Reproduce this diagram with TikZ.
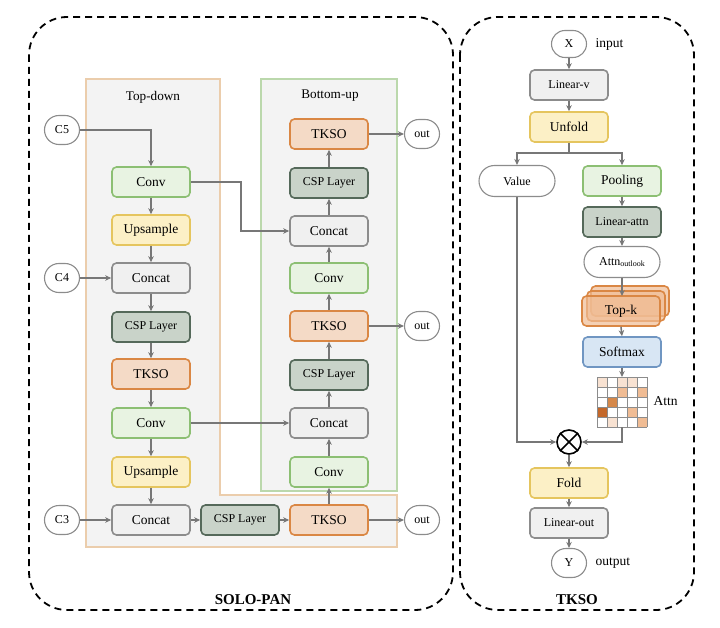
\documentclass[tikz,border=0pt]{standalone}
\usepackage{fontspec}
\setmainfont{Liberation Serif}
\usetikzlibrary{arrows.meta, shapes.misc}

\definecolor{convfill}{HTML}{E8F3E2}
\definecolor{convline}{HTML}{8CBF73}
\definecolor{upfill}{HTML}{FCF0C6}
\definecolor{upline}{HTML}{E5C55E}
\definecolor{catfill}{HTML}{F0F0F0}
\definecolor{catline}{HTML}{8C8C8C}
\definecolor{cspfill}{HTML}{C9D3C9}
\definecolor{cspline}{HTML}{55695A}
\definecolor{tkfill}{HTML}{F4DAC6}
\definecolor{tkline}{HTML}{DA8744}
\definecolor{smfill}{HTML}{D8E6F4}
\definecolor{smline}{HTML}{7096C2}
\definecolor{arrgray}{HTML}{777777}
\definecolor{panelfill}{HTML}{F3F3F3}
\definecolor{tdline}{HTML}{EBCDAC}
\definecolor{buline}{HTML}{BBD8AC}
\definecolor{wa}{HTML}{F8E2D2}
\definecolor{wb}{HTML}{F0BC94}
\definecolor{wc}{HTML}{D5884A}
\definecolor{wd}{HTML}{C4682A}

\begin{document}
\begin{tikzpicture}[x=1pt, y=-1pt,
    box/.style={draw, rounded corners=4.5pt, line width=1.6pt, minimum width=78pt,
        minimum height=30pt, inner sep=0pt, font=\fontsize{13.5}{15}\selectfont},
    conv/.style={box, draw=convline, fill=convfill},
    upsm/.style={box, draw=upline, fill=upfill},
    cat/.style={box, draw=catline, fill=catfill},
    csp/.style={box, draw=cspline, fill=cspfill, font=\fontsize{12}{14}\selectfont},
    tkso/.style={box, draw=tkline, fill=tkfill},
    smax/.style={box, draw=smline, fill=smfill},
    pill/.style={rounded rectangle, draw=catline, fill=white, line width=1.1pt,
        minimum width=39pt, minimum height=29pt, inner xsep=2pt,
        font=\fontsize{12}{14}\selectfont},
    link/.style={draw=arrgray, line width=1.6pt, -{Stealth[length=6pt, width=5.5pt]}},
    plain/.style={draw=arrgray, line width=1.6pt},
    outer/.style={draw=black, line width=1.8pt, dash pattern=on 7pt off 5pt, rounded corners=38pt},
    title/.style={font=\fontsize{13.2}{15}\selectfont},
    lbl/.style={font=\fontsize{13.5}{15}\selectfont}]

    \useasboundingbox (0,0) rectangle (720,628);

    % Outer dashed frames
    \draw[outer] (29,17) rectangle (453,610);
    \draw[outer] (460,17) rectangle (694,610);
    \node[font=\fontsize{15}{17}\selectfont\bfseries] (solo) at (253,600) {SOLO-PAN};
    \node[font=\fontsize{15}{17}\selectfont\bfseries] (tksotitle) at (577,600) {TKSO};

    % Panels
    \draw[draw=tdline, fill=panelfill, line width=1.1pt]
        (86,79) -- (220,79) -- (220,495) -- (397,495) -- (397,547) -- (86,547) -- cycle;
    \draw[draw=buline, fill=panelfill, line width=1.1pt] (261,79) rectangle (397,491);
    \node[title] (td) at (153,97) {Top-down};
    \node[title] (bu) at (330,96) {Bottom-up};

    % Inputs
    \node[pill] (c5) at (62,130) {C5};
    \node[pill] (c4) at (62,278) {C4};
    \node[pill] (c3) at (62,520) {C3};

    % Top-down column
    \node[conv] (cv1) at (151,182) {Conv};
    \node[upsm] (up1) at (151,230) {Upsample};
    \node[cat]  (ct1) at (151,278) {Concat};
    \node[csp]  (cs1) at (151,327) {CSP Layer};
    \node[tkso] (tk1) at (151,374) {TKSO};
    \node[conv] (cv2) at (151,423) {Conv};
    \node[upsm] (up2) at (151,472) {Upsample};
    \node[cat]  (ct2) at (151,520) {Concat};

    % Bottom row
    \node[csp]  (cs2) at (240,520) {CSP Layer};
    \node[tkso] (tk2) at (329,520) {TKSO};

    % Bottom-up column
    \node[conv] (bcv1) at (329,472) {Conv};
    \node[cat]  (bct1) at (329,423) {Concat};
    \node[csp]  (bcs1) at (329,375) {CSP Layer};
    \node[tkso] (btk1) at (329,326) {TKSO};
    \node[conv] (bcv2) at (329,278) {Conv};
    \node[cat]  (bct2) at (329,231) {Concat};
    \node[csp]  (bcs2) at (329,183) {CSP Layer};
    \node[tkso] (btk2) at (329,134) {TKSO};

    % Outputs
    \node[pill] (out1) at (422,134) {out};
    \node[pill] (out2) at (422,326) {out};
    \node[pill] (out3) at (422,520) {out};

    % Top-down links
    \draw[link] (c5.east) -| (cv1.north);
    \draw[link] (cv1) -- (up1);
    \draw[link] (up1) -- (ct1);
    \draw[link] (c4) -- (ct1);
    \draw[link] (ct1) -- (cs1);
    \draw[link] (cs1) -- (tk1);
    \draw[link] (tk1) -- (cv2);
    \draw[link] (cv2) -- (up2);
    \draw[link] (up2) -- (ct2);
    \draw[link] (c3) -- (ct2);
    \draw[link] (ct2) -- (cs2);
    \draw[link] (cs2) -- (tk2);
    \draw[link] (tk2) -- (out3);

    % Bottom-up links
    \draw[link] (tk2) -- (bcv1);
    \draw[link] (bcv1) -- (bct1);
    \draw[link] (bct1) -- (bcs1);
    \draw[link] (bcs1) -- (btk1);
    \draw[link] (btk1) -- (bcv2);
    \draw[link] (bcv2) -- (bct2);
    \draw[link] (bct2) -- (bcs2);
    \draw[link] (bcs2) -- (btk2);
    \draw[link] (btk2) -- (out1);
    \draw[link] (btk1) -- (out2);
    \draw[link] (cv2) -- (bct1);
    \draw[link] (cv1.east) -- ++(50,0) |- (bct2.west);

    % TKSO block
    \node[pill, minimum height=27pt] (xin) at (569,44) {X};
    \node[lbl, anchor=west] (inlbl) at (592,44) {input};
    \node[cat, font=\fontsize{12}{14}\selectfont] (linv) at (569,85) {Linear-v};
    \node[upsm] (unf) at (569,127) {Unfold};
    \coordinate (split) at (569,153);
    \node[pill, minimum width=80pt, minimum height=31pt] (val) at (517,181) {Value};
    \node[conv] (pool) at (622,181) {Pooling};
    \node[csp] (lina) at (622,222) {Linear-attn};
    \node[pill, minimum width=80pt, minimum height=31pt] (attno) at (622,262)
        {Attn\raisebox{-1pt}{\fontsize{8}{9}\selectfont outlook}};

    % Top-k stack
    \node[box, draw=tkline, fill=wb, fill opacity=0.7] (topc) at (630,301) {};
    \node[box, draw=tkline, fill=wb, fill opacity=0.7] (topb) at (626,306) {};
    \node[box, draw=tkline, fill=wb, fill opacity=0.7, text opacity=1] (topk) at (621,311) {Top-k};

    \node[smax] (smx) at (622,352) {Softmax};

    % Attention map
    \coordinate (gtop) at (622,377);
    \coordinate (gbot) at (622,427);
    \foreach \c/\r/\col in {0/0/wa, 2/0/wa, 3/0/wa, 2/1/wb, 4/1/wb, 1/2/wc,
        0/3/wd, 3/3/wb, 1/4/wa, 4/4/wb}
        \fill[\col] (597+10*\c,377+10*\r) rectangle ++(10,10);
    \foreach \i in {0,...,5} {
        \draw[catline, line width=0.7pt] (597+10*\i,377) -- (597+10*\i,427);
        \draw[catline, line width=0.7pt] (597,377+10*\i) -- (647,377+10*\i);
    }
    \node[lbl, anchor=west] (attnlbl) at (650,401) {Attn};

    \node[circle, draw=black, fill=white, line width=1.6pt, minimum size=24pt, inner sep=0pt] (ot) at (569,442) {};
    \draw[black, line width=1.6pt] (ot.north west) -- (ot.south east);
    \draw[black, line width=1.6pt] (ot.north east) -- (ot.south west);

    \node[upsm] (fold) at (569,483) {Fold};
    \node[cat, font=\fontsize{12}{14}\selectfont] (lino) at (569,523) {Linear-out};
    \node[pill, minimum height=29pt] (yout) at (569,563) {Y};
    \node[lbl, anchor=west] (outlbl) at (592,563) {output};

    % TKSO links
    \draw[link] (xin) -- (linv);
    \draw[link] (linv) -- (unf);
    \draw[plain] (unf) -- (split);
    \draw[link] (split) -| (val.north);
    \draw[link] (split) -| (pool.north);
    \draw[link] (pool) -- (lina);
    \draw[link] (lina) -- (attno);
    \draw[link] (attno.south) -- (622,296);
    \draw[link] (topk.south) -- (smx.north);
    \draw[link] (smx) -- (gtop);
    \draw[link] (val.south) |- (ot.west);
    \draw[link] (gbot) |- (ot.east);
    \draw[link] (ot) -- (fold);
    \draw[link] (fold) -- (lino);
    \draw[link] (lino) -- (yout);

\end{tikzpicture}
\end{document}
